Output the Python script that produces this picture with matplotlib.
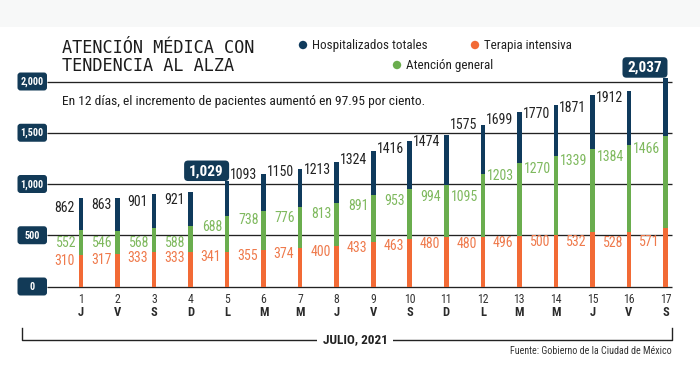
import matplotlib
matplotlib.use('Agg')
import matplotlib.pyplot as plt
import matplotlib.transforms as mtransforms
from matplotlib.patches import FancyBboxPatch, Rectangle, Circle
from matplotlib import font_manager

# ---------------- data ----------------
days = list(range(1, 18))
weekdays = ['J', 'V', 'S', 'D', 'L', 'M', 'M', 'J', 'V', 'S', 'D', 'L', 'M', 'M', 'J', 'V', 'S']
total = [862, 863, 901, 921, 1029, 1093, 1150, 1213, 1324, 1416, 1474, 1575, 1699, 1770, 1871, 1912, 2037]
general = [552, 546, 568, 588, 688, 738, 776, 813, 891, 953, 994, 1095, 1203, 1270, 1339, 1384, 1466]
intensive = [310, 317, 333, 333, 341, 355, 374, 400, 433, 463, 480, 480, 496, 500, 532, 528, 571]
yticks = [0, 500, 1000, 1500, 2000]
ytick_labels = ['0', '500', '1,000', '1,500', '2,000']
highlight_days = [5, 17]
title_lines = ['ATENCIÓN MÉDICA CON', 'TENDENCIA AL ALZA']
subtitle = 'En 12 días, el incremento de pacientes aumentó en 97.95 por ciento.'
legend_labels = ['Hospitalizados totales', 'Terapia intensiva', 'Atención general']
month_label = 'JULIO, 2021'
source = 'Fuente: Gobierno de la Ciudad de México'

# ---------------- layout (label positions, value units) ----------------
total_label_y = [769, 795, 827, 844, None, 1088, 1114, 1137, 1234, 1339, 1413, 1576, 1624, 1683, 1739, 1836, None]
general_label_y = [421, 421, 421, 427, 583, 649, 665, 704, 785, 834, 870, 870, 1078, 1143, 1227, 1260, 1339]
intensive_label_y = [252, 259, 275, 275, 285, 298, 314, 340, 379, 398, 415, 415, 421, 437, 434, 427, 431]

# ---------------- style ----------------
NAVY = '#0f3a5c'
GREEN = '#6aad4e'
ORANGE = '#f26a35'
GREEN_TXT = '#7fb95e'
ORANGE_TXT = '#ef7a4c'
BOXC = '#123a57'
DARK = '#222222'

avail = {f.name for f in font_manager.fontManager.ttflist}
def pick(*names):
    for n in names:
        if n in avail:
            return n
    return 'DejaVu Sans'
NARROW = pick('Liberation Sans Narrow', 'Roboto Condensed', 'Open Sans Condensed', 'Liberation Sans')
SC = 1.0 if NARROW in ('Liberation Sans Narrow', 'Roboto Condensed', 'Open Sans Condensed') else 0.84
FN = [NARROW, 'DejaVu Sans']
MONO = [pick('DejaVu Sans Mono', 'Liberation Mono'), 'DejaVu Sans']

W, H = 700, 365
fig = plt.figure(figsize=(7, 3.65), dpi=100)
fig.patch.set_facecolor('white')
ax = fig.add_axes([0, 0, 1, 1])
X0, DX, Y0, K = 81.0, 36.53, 286.5, 0.1025
ax.set_xlim(1 - X0 / DX, 1 + (W - X0) / DX)
ax.set_ylim(-(H - Y0) / K, Y0 / K)
ax.axis('off')

PX = mtransforms.Affine2D().scale(1 / W, -1 / H).translate(0, 1) + fig.transFigure

def px2x(px):
    return 1 + (px - X0) / DX

def py2y(py):
    return (Y0 - py) / K

def x2px(x):
    return X0 + (x - 1) * DX

def y2py(y):
    return Y0 - y * K

# top faint band
ax.add_patch(Rectangle((0, 0), W, 27, transform=PX, fc='#f7f8f8', ec='none', zorder=0))

# gridlines
for v in yticks:
    ax.plot([px2x(47), px2x(672)], [v, v], color='#222222', lw=0.95, zorder=1,
            solid_capstyle='butt')

# y tick boxes
for v, lab in zip(yticks, ytick_labels):
    cy = y2py(v)
    ax.add_patch(FancyBboxPatch((17.5, cy - 9), 29.5, 18, boxstyle='round,pad=0,rounding_size=3',
                                transform=PX, fc=BOXC, ec='none', zorder=3))
    ax.text(32.25, cy + 0.5, lab, transform=PX, color='white', fontsize=7.3 * SC, fontweight='bold',
            family=FN, ha='center', va='center', zorder=4)

# bars (overlapping)
bw = 4.6 / DX
ax.bar(days, total, width=bw, color=NAVY, zorder=2, linewidth=0)
ax.bar(days, general, width=bw, color=GREEN, zorder=3, linewidth=0)
ax.bar(days, intensive, width=bw, color=ORANGE, zorder=4, linewidth=0)

# value labels
for i, d in enumerate(days):
    if total_label_y[i] is not None:
        ax.annotate(str(total[i]), (d, total_label_y[i]), xytext=(-6, 0), textcoords='offset pixels',
                    ha='right', va='center', fontsize=10 * SC, family=FN, color=DARK, zorder=5)
    ax.annotate(str(general[i]), (d, general_label_y[i]), xytext=(-5, 0), textcoords='offset pixels',
                ha='right', va='center', fontsize=10 * SC, family=FN, color=GREEN_TXT, zorder=5)
    ax.annotate(str(intensive[i]), (d, intensive_label_y[i]), xytext=(-6, 0), textcoords='offset pixels',
                ha='right', va='center', fontsize=10 * SC, family=FN, color=ORANGE_TXT, zorder=5)

# highlighted totals
for d in highlight_days:
    i = days.index(d)
    right = x2px(d) + 2
    bottom = y2py(total[i])
    bwid, bh = 45, 20.5
    ax.add_patch(FancyBboxPatch((right - bwid, bottom - bh), bwid, bh,
                                boxstyle='round,pad=0,rounding_size=4',
                                transform=PX, fc=BOXC, ec='none', zorder=6))
    ax.text(right - bwid / 2, bottom - bh / 2 + 0.5, f'{total[i]:,}', transform=PX, color='white',
            fontsize=11 * SC, fontweight='bold', family=FN, ha='center', va='center', zorder=7)

# x tick labels
for d, wd in zip(days, weekdays):
    ax.text(d, py2y(299.5), str(d), ha='center', va='center', fontsize=8.5 * SC, family=FN, color='#333333')
    ax.text(d, py2y(312.5), wd, ha='center', va='center', fontsize=9 * SC, family=FN,
            fontweight='bold', color='#2a2a2a')

# bracket
ax.plot([px2x(22), px2x(22), px2x(672), px2x(672)],
        [py2y(328), py2y(339.5), py2y(339.5), py2y(328)], color=DARK, lw=1.0, zorder=1)
ax.text(355, 339.5, month_label, transform=PX, ha='center', va='center', fontsize=9.5 * SC,
        fontweight='bold', family=FN, color=DARK, zorder=3,
        bbox=dict(fc='white', ec='none', pad=4))

# source
ax.text(672, 351, source, transform=PX, ha='right', va='center', fontsize=7.2 * SC, family=FN,
        color='#333333')

# title
ax.text(61.5, 53.3, title_lines[0], transform=PX, ha='left', va='baseline', fontsize=12.2,
        family=MONO, color='#1c1c1c')
ax.text(61.5, 70.7, title_lines[1], transform=PX, ha='left', va='baseline', fontsize=12.2,
        family=MONO, color='#1c1c1c')

# legend
leg = [((303, 45), NAVY, legend_labels[0]), ((475, 45), ORANGE, legend_labels[1]),
       ((397, 65), GREEN, legend_labels[2])]
for (cx, cy), col, lab in leg:
    ax.add_patch(Circle((cx, cy), 4.2, transform=PX, fc=col, ec='none', zorder=5))
    ax.text(cx + 9, cy, lab, transform=PX, ha='left', va='center', fontsize=9.4 * SC, family=FN,
            color='#222222')

# subtitle
ax.text(62, 101, subtitle, transform=PX, ha='left', va='center', fontsize=9.7 * SC, family=FN,
        color='#1e1e1e', zorder=5)

fig.savefig('out.png', dpi=100, facecolor='white')
